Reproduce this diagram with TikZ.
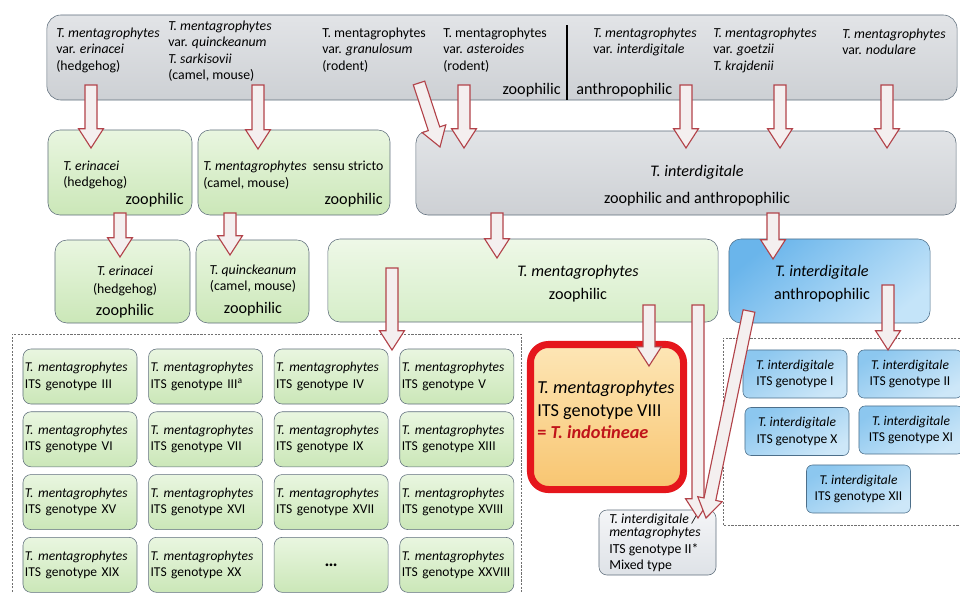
\documentclass[tikz,border=0pt]{standalone}
\usepackage{fontspec}
\setmainfont{Carlito}
\usepackage{xcolor}
\usepackage{tikz}
\usetikzlibrary{positioning,calc}

\definecolor{edge}{HTML}{5F6E7C}
\definecolor{graytop}{HTML}{E2E4E7}
\definecolor{graybot}{HTML}{CDD0D4}
\definecolor{greentop}{HTML}{E9F6E0}
\definecolor{greenbot}{HTML}{CBE7B8}
\definecolor{paletop}{HTML}{EEF8E7}
\definecolor{palebot}{HTML}{D6EEC9}
\definecolor{bluetop}{HTML}{6AB5EB}
\definecolor{bluebot}{HTML}{C4E4F9}
\definecolor{bcelltop}{HTML}{8CC7EF}
\definecolor{bcellbot}{HTML}{CDE7F8}
\definecolor{edgeblue}{HTML}{4D6F8A}
\definecolor{arrowred}{HTML}{B2434A}
\definecolor{arrowfill}{HTML}{F4EFEF}
\definecolor{indred}{HTML}{E5161C}
\definecolor{indtext}{HTML}{C0141A}
\definecolor{orangetop}{HTML}{FDE6B6}
\definecolor{orangebot}{HTML}{F8C570}
\definecolor{mixtop}{HTML}{F4F5F7}
\definecolor{mixbot}{HTML}{DEE2E7}
\definecolor{framegray}{HTML}{707070}

% hollow block arrow from #1 to tip #2
\newcommand{\fatarrow}[2]{%
  \coordinate (hb) at ($(#2)!0.48cm!(#1)$);
  \draw[fat] ($(#1)!0.15cm!90:(#2)$) -- ($(hb)!0.15cm!90:(#2)$) -- ($(hb)!0.31cm!90:(#2)$)
    -- (#2) -- ($(hb)!0.31cm!-90:(#2)$) -- ($(hb)!0.15cm!-90:(#2)$) -- ($(#1)!0.15cm!-90:(#2)$) -- cycle;
}

\begin{document}
\begin{tikzpicture}[x=0.025cm, y=-0.025cm,
    note/.style={align=left, inner sep=0pt, font=\fontsize{9.8}{11.7}\selectfont},
    big/.style={inner sep=0pt, font=\fontsize{11.5}{14}\selectfont},
    topbar/.style={draw=edge, rounded corners=0.35cm, top color=graytop, bottom color=graybot},
    greybox/.style={draw=edge, rounded corners=0.3cm, top color=graytop, bottom color=graybot},
    greenbox/.style={draw=edge, rounded corners=0.3cm, top color=greentop, bottom color=greenbot},
    bluebox/.style={draw=edgeblue, rounded corners=0.3cm, top color=bluetop, bottom color=bluebot, shading angle=40},
    cell/.style={draw=edge, rounded corners=0.2cm, top color=greentop, bottom color=greenbot, minimum width=2.85cm, minimum height=1.375cm, text width=2.75cm, inner xsep=0.05cm, align=left, font=\fontsize{9.6}{11.5}\selectfont},
    bcell/.style={draw=edgeblue, rounded corners=0.15cm, top color=bcelltop, bottom color=bcellbot, shading angle=30, minimum width=2.6cm, minimum height=1.2cm, align=center, font=\fontsize{9.6}{11.5}\selectfont},
    fat/.style={draw=arrowred, fill=arrowfill, line width=0.8pt},
    frame/.style={draw=framegray, line width=0.5pt, dash pattern=on 1.5pt off 1pt}
]
    \useasboundingbox (0,0) rectangle (960,592);

    % Varieties (top bar)
    \node[topbar, minimum width=22.75cm, minimum height=2.125cm] (top) at (502,57.5) {};
    \node[note, anchor=west] (erinv) at (56,50) {\textit{T. mentagrophytes}\\var. \textit{erinacei}\\(hedgehog)};
    \node[note, anchor=west] (quinv) at (168,51) {\textit{T. mentagrophytes}\\var. \textit{quinckeanum}\\\textit{T. sarkisovii}\\(camel, mouse)};
    \node[note, anchor=west] (granv) at (322,50) {T. mentagrophytes\\var. \textit{granulosum}\\(rodent)};
    \node[note, anchor=west] (astv) at (443,50) {T. mentagrophytes\\var. \textit{asteroides}\\(rodent)};
    \node[big, anchor=east] (zoo) at (561,90) {zoophilic};
    \node[big, anchor=west] (anthro) at (576,90) {anthropophilic};
    \node[note, anchor=west] (intv) at (593,42) {\textit{T. mentagrophytes}\\var. \textit{interdigitale}};
    \node[note, anchor=west] (goev) at (713,50) {\textit{T. mentagrophytes}\\var. \textit{goetzii}\\\textit{T. krajdenii}};
    \node[note, anchor=west] (nodv) at (842,42) {\textit{T. mentagrophytes}\\var. \textit{nodulare}};
    \draw[line width=0.9pt] (567,25) -- (567,100);

    % Species (second row)
    \node[greenbox, minimum width=3.6cm, minimum height=2.125cm] (erin1) at (120,172.5) {};
    \node[note, anchor=west] (erin1t) at (63,175) {\textit{T. erinacei}\\(hedgehog)};
    \node[big, anchor=east] (erin1z) at (184,200) {zoophilic};
    \node[greenbox, minimum width=4.8cm, minimum height=2.125cm] (ment1) at (294,172.5) {};
    \node[note, anchor=west] (ment1t) at (203,175) {\textit{T. mentagrophytes}\ \ sensu stricto\\(camel, mouse)};
    \node[big, anchor=east] (ment1z) at (383,200) {zoophilic};
    \node[greybox, minimum width=13.5cm, minimum height=2.1cm] (intg) at (686,173) {};
    \node[big, align=center] (intgt) at (697,186) {\textit{T. interdigitale}\\[5pt]zoophilic and anthropophilic};

    % Species (third row)
    \node[greenbox, minimum width=3.375cm, minimum height=2.075cm] (erin2) at (122.5,281.5) {};
    \node[note, align=center] (erin2t) at (125,281) {\textit{T. erinacei}\\[1pt](hedgehog)};
    \node[big] (erin2z) at (125,311) {zoophilic};
    \node[greenbox, minimum width=2.825cm, minimum height=2.075cm] (quin2) at (252.5,281.5) {};
    \node[note, align=center] (quin2t) at (253,278.5) {\textit{T. quinckeanum}\\(camel, mouse)};
    \node[big] (quin2z) at (253,309) {zoophilic};
    \node[greenbox, top color=paletop, bottom color=palebot, minimum width=9.75cm, minimum height=2.075cm] (ment2) at (523,280.5) {};
    \node[big, align=center] (ment2t) at (578,283.5) {\textit{T. mentagrophytes}\\[2.3pt]zoophilic};
    \node[bluebox, minimum width=5.025cm, minimum height=2.1cm] (intb) at (829.5,281) {};
    \node[big, align=center] (intbt) at (822,283.5) {\textit{T. interdigitale}\\[2.3pt]anthropophilic};

    % ITS genotypes of T. mentagrophytes
    \draw[frame] (12,592) -- (12,334) -- (521,334) -- (521,592);
    \node[cell] (g1) at (80,376.5) {\textit{T. mentagrophytes}\\ITS genotype III};
    \node[cell, right=0.275cm of g1] (g2) {\textit{T. mentagrophytes}\\ITS genotype III\textsuperscript{a}};
    \node[cell, right=0.275cm of g2] (g3) {\textit{T. mentagrophytes}\\ITS genotype IV};
    \node[cell, right=0.275cm of g3] (g4) {\textit{T. mentagrophytes}\\ITS genotype V};
    \node[cell, below=0.18cm of g1] (g5) {\textit{T. mentagrophytes}\\ITS genotype VI};
    \node[cell, right=0.275cm of g5] (g6) {\textit{T. mentagrophytes}\\ITS genotype VII};
    \node[cell, right=0.275cm of g6] (g7) {\textit{T. mentagrophytes}\\ITS genotype IX};
    \node[cell, right=0.275cm of g7] (g8) {\textit{T. mentagrophytes}\\ITS genotype XIII};
    \node[cell, below=0.18cm of g5] (g9) {\textit{T. mentagrophytes}\\ITS genotype XV};
    \node[cell, right=0.275cm of g9] (g10) {\textit{T. mentagrophytes}\\ITS genotype XVI};
    \node[cell, right=0.275cm of g10] (g11) {\textit{T. mentagrophytes}\\ITS genotype XVII};
    \node[cell, right=0.275cm of g11] (g12) {\textit{T. mentagrophytes}\\ITS genotype XVIII};
    \node[cell, below=0.18cm of g9] (g13) {\textit{T. mentagrophytes}\\ITS genotype XIX};
    \node[cell, right=0.275cm of g13] (g14) {\textit{T. mentagrophytes}\\ITS genotype XX};
    \node[cell, right=0.275cm of g14, align=center, font=\fontsize{13}{14}\selectfont] (g15) {\textbf{\ldots}};
    \node[cell, right=0.275cm of g15] (g16) {\textit{T. mentagrophytes}\\\mbox{ITS genotype XXVIII}};

    % T. indotineae
    \node[draw=indred, line width=5pt, rounded corners=0.45cm, top color=orangetop, bottom color=orangebot, minimum width=3.825cm, minimum height=3.625cm] (indo) at (607,417) {};
    \node[anchor=west, align=left, inner sep=0pt, font=\fontsize{13}{16}\selectfont] (indot) at (537,410) {\textit{T. mentagrophytes}\\ITS genotype VIII\\\textcolor{indtext}{\textbf{= \textit{T. indotineae}}}};

    % Mixed type
    \node[draw=edge, rounded corners=0.2cm, top color=mixtop, bottom color=mixbot, minimum width=2.925cm, minimum height=1.625cm] (mixed) at (657.5,542.5) {};
    \node[note, anchor=west] (mixedt) at (609,543) {\textit{T. interdigitale /}\\[-2.3pt]\textit{mentagrophytes}\\ITS genotype II*\\Mixed type};

    % ITS genotypes of T. interdigitale
    \draw[frame] (960,338) -- (723,338) -- (723,525) -- (960,525);
    \node[bcell] (b1) at (795,374) {\textit{T. interdigitale}\\ITS genotype I};
    \node[bcell] (b2) at (910,374) {\textit{T. interdigitale}\\ITS genotype II};
    \node[bcell] (b10) at (797,431.5) {\textit{T. interdigitale}\\ITS genotype X};
    \node[bcell] (b11) at (911,430) {\textit{T. interdigitale}\\ITS genotype XI};
    \node[bcell] (b12) at (858.5,489) {\textit{T. interdigitale}\\ITS genotype XII};

    % Arrow ends
    \coordinate (erinS) at (91,85);    \coordinate (erinE) at (91,148);
    \coordinate (quinS) at (258,85);   \coordinate (quinE) at (258,149);
    \coordinate (granS) at (419,83);   \coordinate (granE) at (440,147);
    \coordinate (astS) at (464,85);    \coordinate (astE) at (464,148);
    \coordinate (intS) at (686,85);    \coordinate (intE) at (686,148);
    \coordinate (goeS) at (780,85);    \coordinate (goeE) at (780,148);
    \coordinate (nodS) at (887,85);    \coordinate (nodE) at (887,148);
    \coordinate (erin1S) at (120,213); \coordinate (erin1E) at (120,257);
    \coordinate (ment1S) at (230,213); \coordinate (ment1E) at (230,255);
    \coordinate (intgS) at (497,213);  \coordinate (intgE) at (497,258);
    \coordinate (intgS2) at (773,213); \coordinate (intgE2) at (773,259);
    \coordinate (ment2S) at (392,268); \coordinate (ment2E) at (392,350);
    \coordinate (indoS) at (649,305);  \coordinate (indoE) at (649,366);
    \coordinate (mixS) at (698,305);   \coordinate (mixE) at (698,518);
    \coordinate (mixS2) at (749,311);  \coordinate (mixE2) at (706,518);
    \coordinate (intbS) at (888,285);  \coordinate (intbE) at (888,350);

    % Arrows
    \fatarrow{erinS}{erinE}
    \fatarrow{quinS}{quinE}
    \fatarrow{granS}{granE}
    \fatarrow{astS}{astE}
    \fatarrow{intS}{intE}
    \fatarrow{goeS}{goeE}
    \fatarrow{nodS}{nodE}
    \fatarrow{erin1S}{erin1E}
    \fatarrow{ment1S}{ment1E}
    \fatarrow{intgS}{intgE}
    \fatarrow{intgS2}{intgE2}
    \fatarrow{ment2S}{ment2E}
    \fatarrow{indoS}{indoE}
    \fatarrow{mixS}{mixE}
    \fatarrow{mixS2}{mixE2}
    \fatarrow{intbS}{intbE}
\end{tikzpicture}
\end{document}
